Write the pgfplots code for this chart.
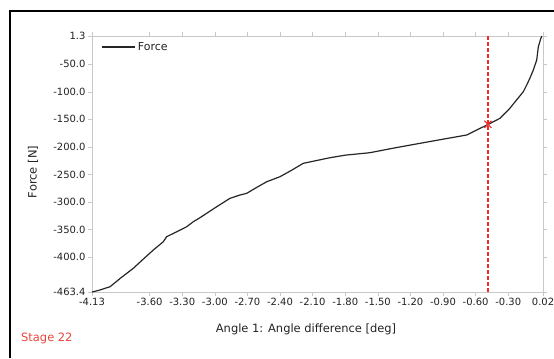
\documentclass[border=0pt]{standalone}
\usepackage{fontspec}
\setmainfont{DejaVu Sans}
\usepackage{pgfplots}
\pgfplotsset{compat=1.18}
\definecolor{tickgray}{HTML}{222222}
\definecolor{axgray}{HTML}{C8C8C8}
\definecolor{stagered}{HTML}{E8453C}
\definecolor{dashred}{HTML}{EE2A2A}
\begin{document}
\begin{tikzpicture}[x=1bp,y=1bp]
\useasboundingbox (0,0) rectangle (554,-358);
\fill[white] (0,0) rectangle (554,-358);
\draw[black, line width=1.2bp] (10,-358) -- (10,-11) -- (554,-11);
\begin{axis}[
  at={(92bp,-292bp)}, anchor=south west,
  scale only axis, width=451bp, height=256bp,
  xmin=-4.13, xmax=0.02, ymin=-463.4, ymax=1.3,
  axis line style={axgray, line width=0.8bp},
  xtick={-4.13,-3.6,-3.3,-3.0,-2.7,-2.4,-2.1,-1.8,-1.5,-1.2,-0.9,-0.6,-0.3,0.02},
  ytick={-463.4,-400,-350,-300,-250,-200,-150,-100,-50,1.3},
  tick align=outside, major tick length=4bp,
  tick style={axgray, line width=0.6bp},
  x tick label style={/pgf/number format/fixed, /pgf/number format/fixed zerofill, /pgf/number format/precision=2, /pgf/number format/assume math mode=true, yshift=1bp},
  y tick label style={/pgf/number format/fixed, /pgf/number format/fixed zerofill, /pgf/number format/precision=1, /pgf/number format/assume math mode=true, xshift=1bp},
  ticklabel style={font=\fontsize{10}{12}\selectfont, text=tickgray},
  legend style={at={(0.018,0.988)}, anchor=north west, draw=none, fill=none,
    font=\fontsize{11}{13}\selectfont, text=tickgray, inner sep=1bp, row sep=0pt},
  legend image code/.code={\draw[#1, line width=1.6bp] (0bp,0bp) -- (33bp,0bp);},
  clip=false,
]
\addplot[color=black!85, line width=1.2bp] coordinates {
(-4.13,-463.4) (-4.07,-460.5) (-3.964,-453.8) (-3.86,-437) (-3.750,-420.4)
(-3.66,-404) (-3.566,-387.2) (-3.474,-372.1) (-3.443,-363) (-3.35,-354)
(-3.259,-344.9) (-3.198,-335.8) (-3.14,-329) (-3.075,-320.5) (-2.97,-307)
(-2.860,-293.3) (-2.78,-288) (-2.706,-284.2) (-2.61,-273) (-2.522,-263.2)
(-2.400,-254.1) (-2.29,-242) (-2.186,-229.8) (-1.95,-220) (-1.8,-215) (-1.572,-210.5)
(-1.35,-202) (-1.112,-193.5) (-0.90,-186) (-0.682,-178.4) (-0.590,-169.3)
(-0.483,-159) (-0.376,-148.1) (-0.285,-129.9) (-0.22,-114) (-0.161,-99.8)
(-0.130,-87.6) (-0.10,-75) (-0.069,-60.4) (-0.038,-42.3) (-0.023,-18.1)
(0.0,-3) (0.01,1.3)
};
\addlegendentry{Force}
\addplot[dashred, line width=2bp, dash pattern=on 4bp off 2bp, forget plot] coordinates {(-0.487,1.3) (-0.487,-463.4)};
\addplot[dashred, only marks, mark=x, mark size=5bp, line width=1.1bp, forget plot] coordinates {(-0.487,-159)};
\end{axis}
\node[font=\fontsize{11.5}{13}\selectfont, text=tickgray] at (306,-329) {Angle 1: Angle difference [deg]};
\node[font=\fontsize{11.5}{13}\selectfont, text=tickgray, rotate=90] at (33,-172) {Force [N]};
\node[font=\fontsize{11.5}{13}\selectfont, text=stagered, anchor=west, inner sep=0pt] at (21,-338) {Stage 22};
\end{tikzpicture}
\end{document}
